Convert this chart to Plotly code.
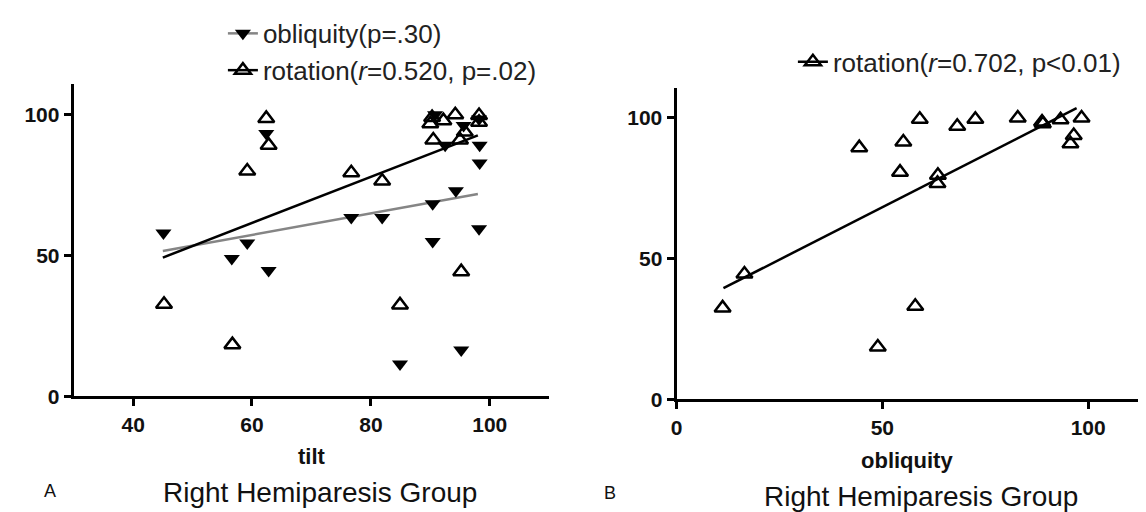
import plotly.graph_objects as go

# ---- Panel A data (x = tilt) ----
tilt_obl = [45.1, 56.6, 59.2, 62.4, 62.8, 76.7, 81.9, 84.9, 90.4, 90.4, 94.3, 95.2,
            98.3, 98.3, 98.2, 90.8, 92.5, 95.6, 98.2]
obliquity_a = [58, 49, 54.5, 93.3, 44.7, 63.5, 63.5, 11.5, 68.4, 55, 73, 16.5,
               89.2, 82.9, 59.5, 100, 89.2, 96.2, 98.5]
tilt_rot = [45.2, 56.7, 59.2, 62.4, 62.8, 76.7, 81.9, 84.9, 95.2, 90.3, 90.0, 92.2,
            94.2, 90.5, 95.0, 95.8, 98.2, 98.2]
rotation_a = [32.7, 18.4, 80, 98.7, 89.2, 79.4, 76.5, 32.5, 44.3, 99, 96.8, 97.9,
              100, 91, 91, 93.9, 99.7, 97.3]
fit_a_x = [45, 98]
fit_a_rot = [49.3, 92.7]
fit_a_obl = [51.6, 71.9]

# ---- Panel B data (x = obliquity) ----
obliquity_b = [11.2, 16.5, 44.4, 48.9, 54.3, 55.1, 58.0, 59.1, 63.5, 63.4, 68.2,
               72.6, 82.9, 89.0, 88.8, 93.3, 95.7, 96.5, 98.4]
rotation_b = [32.5, 44.5, 89.4, 18.6, 80.7, 91.4, 33.1, 99.5, 79.6, 76.7, 97,
              99.5, 99.9, 97.9, 98.5, 99.3, 90.8, 93.7, 99.9]
fit_b_x = [11.4, 97.2]
fit_b_y = [39.5, 103.4]

labels = {
    "obl_a": "obliquity(p=.30)",
    "rot_a": "rotation(<i>r</i>=0.520, p=.02)",
    "rot_b": "rotation(<i>r</i>=0.702, p<0.01)",
}

FONT = "Liberation Sans, Arial, sans-serif"
GRAY = "#858585"
MS = 14
LW = 2.5

tri_open = dict(symbol="triangle-up-open", size=MS, color="black",
                line=dict(width=LW, color="black"))
tri_down = dict(symbol="triangle-down", size=MS, color="black")

fig = go.Figure()

# Panel A
fig.add_trace(go.Scatter(x=fit_a_x, y=fit_a_obl, mode="lines",
                         line=dict(color=GRAY, width=2.5), showlegend=False,
                         xaxis="x", yaxis="y"))
fig.add_trace(go.Scatter(x=fit_a_x, y=fit_a_rot, mode="lines",
                         line=dict(color="black", width=2.5), showlegend=False,
                         xaxis="x", yaxis="y"))
fig.add_trace(go.Scatter(x=tilt_obl, y=obliquity_a, mode="markers", marker=tri_down,
                         showlegend=False, xaxis="x", yaxis="y"))
fig.add_trace(go.Scatter(x=tilt_rot, y=rotation_a, mode="markers", marker=tri_open,
                         showlegend=False, xaxis="x", yaxis="y"))
# legend entries A
fig.add_trace(go.Scatter(x=[None], y=[None], mode="lines+markers", name=labels["obl_a"],
                         line=dict(color=GRAY, width=2.5), marker=tri_down,
                         legend="legend", xaxis="x", yaxis="y"))
fig.add_trace(go.Scatter(x=[None], y=[None], mode="lines+markers", name=labels["rot_a"],
                         line=dict(color="black", width=2.5), marker=tri_open,
                         legend="legend", xaxis="x", yaxis="y"))

# Panel B
fig.add_trace(go.Scatter(x=fit_b_x, y=fit_b_y, mode="lines",
                         line=dict(color="black", width=2.5), showlegend=False,
                         xaxis="x2", yaxis="y2"))
fig.add_trace(go.Scatter(x=obliquity_b, y=rotation_b, mode="markers", marker=tri_open,
                         showlegend=False, xaxis="x2", yaxis="y2"))
fig.add_trace(go.Scatter(x=[None], y=[None], mode="lines+markers", name=labels["rot_b"],
                         line=dict(color="black", width=2.5), marker=tri_open,
                         legend="legend2", xaxis="x2", yaxis="y2"))

W, H = 1146, 512
def px(v):
    return v / W
def py(v):
    return 1 - v / H

axis_common = dict(showline=True, linecolor="black", linewidth=3, ticks="outside",
                   ticklen=7, tickwidth=2.5, tickcolor="black", showgrid=False,
                   zeroline=False, mirror=False,
                   tickfont=dict(family=FONT, size=21, color="#111", weight="bold"))

LEG_FONT = dict(family=FONT, size=26, color="#222")

fig.update_layout(
    width=W, height=H,
    margin=dict(l=0, r=0, t=0, b=0),
    plot_bgcolor="white", paper_bgcolor="white",
    font=dict(family=FONT, color="#111"),
    xaxis=dict(domain=[px(60), px(538)], range=[30, 110], tickvals=[40, 60, 80, 100],
               anchor="y", **axis_common),
    yaxis=dict(domain=[py(397), py(78)], range=[0, 110.8], tickvals=[0, 50, 100],
               anchor="x", **axis_common),
    xaxis2=dict(domain=[px(666), 1.0], range=[0, 116], tickvals=[0, 50, 100],
                anchor="y2", **axis_common),
    yaxis2=dict(domain=[py(400), py(82)], range=[0, 110.5], tickvals=[0, 50, 100],
                anchor="x2", **axis_common),
    legend=dict(x=px(210), y=py(2), xanchor="left", yanchor="top",
                font=LEG_FONT, bgcolor="rgba(0,0,0,0)", tracegroupgap=0, itemwidth=30),
    legend2=dict(x=px(783), y=py(31), xanchor="left", yanchor="top",
                 font=LEG_FONT, bgcolor="rgba(0,0,0,0)", itemwidth=30),
    showlegend=True,
)

ann_font_bold = dict(family=FONT, size=22, color="#111", weight="bold")
title_font = dict(family=FONT, size=28, color="#111")
annots = [
    dict(text="tilt", x=px(300), y=py(458), xanchor="center", font=ann_font_bold),
    dict(text="obliquity", x=px(898), y=py(462), xanchor="center", font=ann_font_bold),
    dict(text="A", x=px(36), y=py(494), xanchor="center",
         font=dict(family=FONT, size=18, color="#111")),
    dict(text="B", x=px(599), y=py(496), xanchor="center",
         font=dict(family=FONT, size=18, color="#111")),
    dict(text="Right Hemiparesis Group", x=px(148), y=py(495), xanchor="left", font=title_font),
    dict(text="Right Hemiparesis Group", x=px(752), y=py(499), xanchor="left", font=title_font),
]
for a in annots:
    fig.add_annotation(xref="paper", yref="paper", showarrow=False,
                       yanchor="middle", **a)

fig.write_html("out.html")
